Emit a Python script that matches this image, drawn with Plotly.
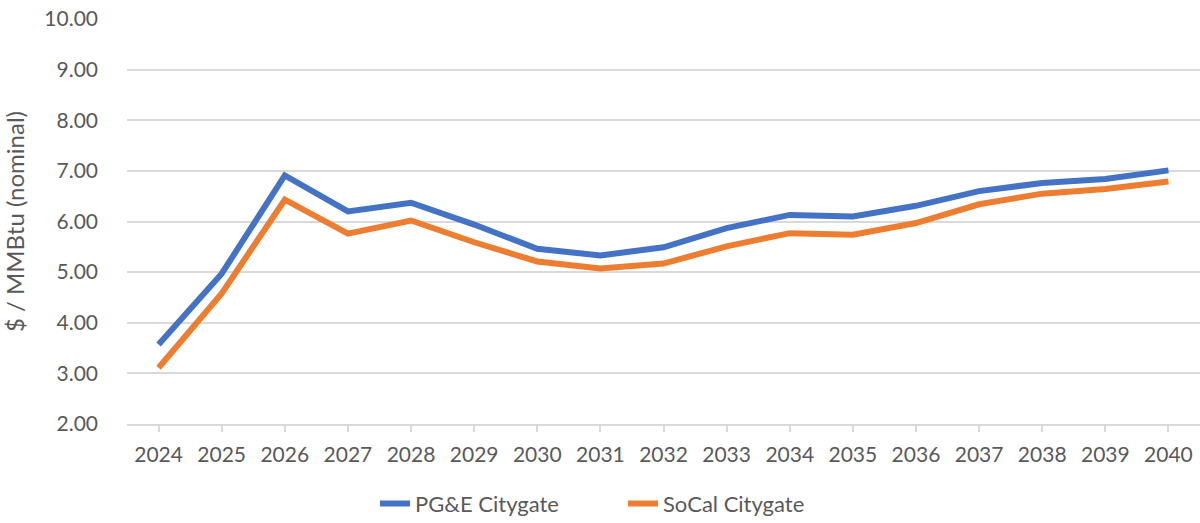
import plotly.graph_objects as go

# Years on the category axis
years = [str(y) for y in range(2024, 2041)]

# Citygate gas price forecasts, $/MMBtu nominal
pge_citygate = [3.57, 4.97, 6.91, 6.20, 6.37, 5.94, 5.46, 5.33, 5.49,
                5.87, 6.13, 6.10, 6.31, 6.60, 6.76, 6.84, 7.01]
socal_citygate = [3.11, 4.58, 6.43, 5.76, 6.02, 5.59, 5.21, 5.07, 5.17,
                  5.51, 5.77, 5.74, 5.97, 6.34, 6.55, 6.64, 6.79]

y_ticks = [2, 3, 4, 5, 6, 7, 8, 9, 10]

font_family = "Lato, 'Open Sans', sans-serif"
text_color = "#595959"
grid_color = "#D9D9D9"

fig = go.Figure()

fig.add_trace(go.Scatter(
    x=years, y=pge_citygate,
    mode='lines',
    name='PG&E Citygate',
    line=dict(color='#4472C4', width=6),
))
fig.add_trace(go.Scatter(
    x=years, y=socal_citygate,
    mode='lines',
    name='SoCal Citygate',
    line=dict(color='#ED7D31', width=6),
))

fig.update_layout(
    width=1200, height=523,
    margin=dict(l=127, r=0, t=19, b=99),
    paper_bgcolor='white',
    plot_bgcolor='white',
    font=dict(family=font_family, size=21, color=text_color),
    showlegend=True,
    # legend placed against the container so it doesn't push the margins
    legend=dict(
        orientation='h',
        xref='container', yref='container',
        x=0.3125, xanchor='left',
        y=0.077, yanchor='top',
        font=dict(size=22, color=text_color),
        entrywidth=203,
        traceorder='normal',
    ),
    xaxis=dict(
        type='category',
        range=[-0.5, len(years) - 0.5],
        showgrid=False,
        showline=True,
        linecolor=grid_color,
        linewidth=1.5,
        ticks='outside',
        ticklen=6,
        tickcolor=grid_color,
        tickwidth=1.5,
        ticklabelstandoff=5,
        tickfont=dict(size=21, color=text_color),
        zeroline=False,
    ),
    yaxis=dict(
        range=[2, 10],
        tickvals=y_ticks,
        tickformat='.2f',
        showgrid=True,
        gridcolor=grid_color,
        gridwidth=1.5,
        zeroline=False,
        showline=False,
        ticks='',
        ticklabelstandoff=28,
        tickfont=dict(size=21, color=text_color),
        title=dict(text='$ / MMBtu (nominal)', font=dict(size=24, color=text_color), standoff=14),
    ),
)

# drop the default 8px body margin so the figure fills the window
fig.write_html("out.html", config={'displayModeBar': False},
               post_script="document.body.style.margin='0';")
